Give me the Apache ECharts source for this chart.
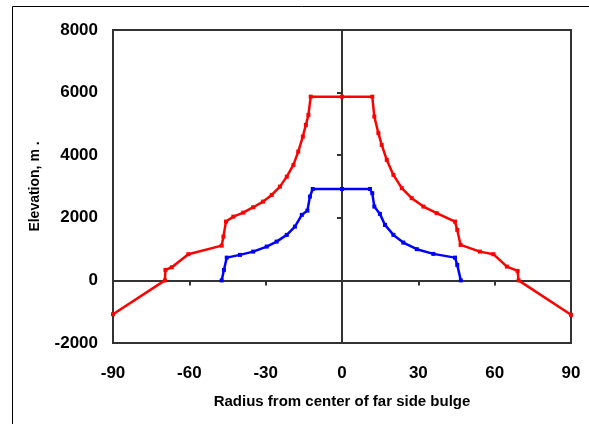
<!DOCTYPE html>
<html>
<head>
<meta charset="utf-8">
<script src="https://cdn.jsdelivr.net/npm/echarts@6/dist/echarts.min.js"></script>
<style>
  html, body { margin: 0; padding: 0; background: #fff; }
  #chart { width: 589px; height: 424px; }
</style>
</head>
<body>
<div id="chart"></div>
<script>
// profile: [radius, elevation]
var outerProfile = [
  [-90, -1080], [-69.6, 0], [-69.4, 335], [-66.9, 420], [-60.4, 837],
  [-47.3, 1110], [-46.6, 1400], [-45.6, 1879], [-42.7, 2038], [-38.8, 2166],
  [-34.9, 2338], [-31.0, 2518], [-27.6, 2732], [-24.4, 2997], [-21.7, 3316],
  [-19.1, 3690], [-17.2, 4115], [-15.4, 4594], [-14.2, 4968], [-13.2, 5288],
  [-12.3, 5870], [0, 5870],
  [11.9, 5870], [12.7, 5234], [14.3, 4703], [15.6, 4329], [17.6, 3850],
  [20.2, 3371], [23.5, 2946], [27.4, 2626], [32.0, 2358], [37.2, 2147],
  [44.4, 1879], [45.3, 1613], [46.6, 1134], [54.2, 920], [59.5, 837],
  [64.8, 441], [69.0, 303], [69.4, 0], [90, -1100]
];
var innerProfile = [
  [-47.3, 0], [-46.4, 335], [-45.3, 728], [-40.1, 815], [-34.9, 920],
  [-29.6, 1080], [-25.7, 1240], [-21.7, 1454], [-18.5, 1719], [-15.8, 2093],
  [-13.6, 2230], [-12.6, 2678], [-11.5, 2920], [0, 2920],
  [11.0, 2920], [11.9, 2786], [12.7, 2358], [14.9, 2125], [16.9, 1773],
  [20.2, 1454], [24.1, 1208], [29.4, 997], [35.9, 847], [44.4, 728],
  [45.3, 495], [46.7, 0]
];
var xTicks = [-90, -60, -30, 0, 30, 60, 90];
var yTicks = [-2000, 0, 2000, 4000, 6000, 8000];

var font = 'Liberation Sans, Arial, sans-serif';
var axisColor = '#333';

var chart = echarts.init(document.getElementById('chart'));
var option = {
  animation: false,
  graphic: [{
    type: 'rect',
    shape: { x: 12.5, y: 6.5, width: 700, height: 500 },
    style: { fill: 'none', stroke: '#000', lineWidth: 1 }
  }],
  grid: {
    left: 113, right: 18, top: 30, bottom: 81,
    show: true, borderColor: axisColor, borderWidth: 2, backgroundColor: 'transparent'
  },
  xAxis: [
    {
      // zero line with ticks
      type: 'value', min: xTicks[0], max: xTicks[xTicks.length - 1], interval: 30,
      axisLine: { show: true, onZero: true, lineStyle: { color: axisColor, width: 2 } },
      axisTick: { show: true, length: 5, lineStyle: { color: axisColor, width: 2 } },
      axisLabel: { show: false },
      splitLine: { show: false }
    },
    {
      // labels along the bottom
      type: 'value', position: 'bottom', min: xTicks[0], max: xTicks[xTicks.length - 1], interval: 30,
      axisLine: { show: false, onZero: false },
      axisTick: { show: false },
      axisLabel: { show: true, margin: 22, color: '#000', fontFamily: font, fontWeight: 'bold', fontSize: 17,
        formatter: function (v) { return String(v); } },
      splitLine: { show: false },
      name: 'Radius from center of far side bulge',
      nameLocation: 'middle', nameGap: 51,
      nameTextStyle: { color: '#000', fontFamily: font, fontWeight: 'bold', fontSize: 15 }
    }
  ],
  yAxis: [
    {
      type: 'value', min: yTicks[0], max: yTicks[yTicks.length - 1], interval: 2000,
      axisLine: { show: true, onZero: true, lineStyle: { color: axisColor, width: 2 } },
      axisTick: { show: true, length: 5, lineStyle: { color: axisColor, width: 2 } },
      axisLabel: { show: false },
      splitLine: { show: false }
    },
    {
      type: 'value', position: 'left', min: yTicks[0], max: yTicks[yTicks.length - 1], interval: 2000,
      axisLine: { show: false, onZero: false },
      axisTick: { show: false },
      axisLabel: { show: true, margin: 15, color: '#000', fontFamily: font, fontWeight: 'bold', fontSize: 17,
        formatter: function (v) { return String(v); } },
      splitLine: { show: false },
      name: 'Elevation, m .',
      nameLocation: 'middle', nameGap: 71, nameRotate: 90,
      nameTextStyle: { color: '#000', fontFamily: font, fontWeight: 'bold', fontSize: 14 }
    }
  ],
  series: [
    {
      type: 'line', xAxisIndex: 0, yAxisIndex: 0, data: outerProfile,
      symbol: 'rect', symbolSize: 4, showSymbol: true,
      itemStyle: { color: '#ff0000' },
      lineStyle: { color: '#ff0000', width: 2.5 }
    },
    {
      type: 'line', xAxisIndex: 0, yAxisIndex: 0, data: innerProfile,
      symbol: 'rect', symbolSize: 4, showSymbol: true,
      itemStyle: { color: '#0000ff' },
      lineStyle: { color: '#0000ff', width: 2.5 }
    }
  ]
};
chart.setOption(option);
</script>
</body>
</html>
